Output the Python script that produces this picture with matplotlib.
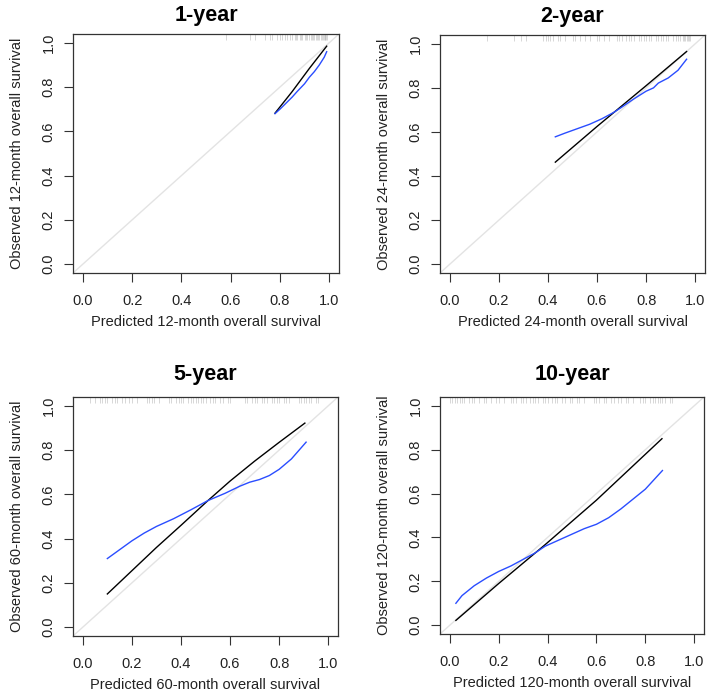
import numpy as np
import matplotlib
matplotlib.use("Agg")
import matplotlib.pyplot as plt

plt.rcParams['font.family'] = ['Liberation Sans', 'DejaVu Sans']

titles = ["1-year", "2-year", "5-year", "10-year"]
months = [12, 24, 60, 120]

# black: apparent (bias-corrected) calibration, blue: smoothed observed
black_x = [[0.78, 0.85, 0.92, 0.99],
           [0.43, 0.60, 0.80, 0.965],
           [0.10, 0.20, 0.30, 0.40, 0.51, 0.60, 0.70, 0.80, 0.905],
           [0.025, 0.20, 0.39, 0.60, 0.868]]
black_y = [[0.682, 0.78, 0.885, 0.985],
           [0.463, 0.625, 0.81, 0.965],
           [0.15, 0.255, 0.36, 0.46, 0.572, 0.66, 0.75, 0.835, 0.922],
           [0.022, 0.19, 0.367, 0.57, 0.85]]

blue_x = [[0.78, 0.80, 0.82, 0.85, 0.87, 0.90, 0.92, 0.94, 0.96, 0.98, 0.99],
          [0.43, 0.47, 0.52, 0.57, 0.62, 0.67, 0.70, 0.75, 0.80, 0.83, 0.85,
           0.89, 0.93, 0.965],
          [0.10, 0.15, 0.20, 0.25, 0.30, 0.37, 0.44, 0.51, 0.58, 0.64, 0.68,
           0.72, 0.76, 0.80, 0.85, 0.91],
          [0.025, 0.05, 0.10, 0.15, 0.20, 0.25, 0.30, 0.35, 0.39, 0.45, 0.50,
           0.55, 0.60, 0.65, 0.70, 0.75, 0.80, 0.87]]
blue_y = [[0.68, 0.70, 0.722, 0.755, 0.78, 0.815, 0.845, 0.87, 0.90, 0.935, 0.96],
          [0.578, 0.595, 0.615, 0.635, 0.66, 0.69, 0.712, 0.75, 0.785, 0.80,
           0.822, 0.845, 0.88, 0.93],
          [0.31, 0.35, 0.39, 0.425, 0.455, 0.49, 0.53, 0.572, 0.605, 0.637,
           0.655, 0.667, 0.685, 0.713, 0.76, 0.836],
          [0.10, 0.135, 0.18, 0.215, 0.245, 0.27, 0.30, 0.33, 0.36, 0.39, 0.415,
           0.44, 0.46, 0.49, 0.53, 0.575, 0.62, 0.705]]

# rug of predicted values along the top
rugs = [
    [0.58, 0.68, 0.70, 0.74, 0.76, 0.77, 0.79, 0.80, 0.81, 0.82, 0.83, 0.84,
     0.85, 0.86, 0.865, 0.87, 0.88, 0.885, 0.89, 0.90, 0.905, 0.91, 0.92,
     0.925, 0.93, 0.935, 0.94, 0.945, 0.95, 0.955, 0.96, 0.965, 0.97, 0.975,
     0.98, 0.983, 0.985, 0.988, 0.99],
    [0.15, 0.26, 0.29, 0.31, 0.38, 0.39, 0.40, 0.41, 0.42, 0.44, 0.45, 0.47,
     0.50, 0.51, 0.53, 0.55, 0.57, 0.60, 0.61, 0.63, 0.65, 0.68, 0.69, 0.70,
     0.72, 0.73, 0.74, 0.75, 0.77, 0.78, 0.79, 0.80, 0.81, 0.82, 0.84, 0.85,
     0.86, 0.87, 0.88, 0.89, 0.91, 0.92, 0.93, 0.94, 0.95, 0.955, 0.96, 0.965,
     0.97, 0.975, 0.98],
    [0.03, 0.05, 0.07, 0.08, 0.09, 0.10, 0.12, 0.13, 0.14, 0.16, 0.17, 0.19,
     0.20, 0.22, 0.26, 0.27, 0.28, 0.29, 0.31, 0.35, 0.36, 0.38, 0.39, 0.40,
     0.41, 0.43, 0.44, 0.45, 0.46, 0.47, 0.48, 0.49, 0.50, 0.52, 0.53, 0.54,
     0.56, 0.57, 0.59, 0.60, 0.66, 0.67, 0.69, 0.70, 0.71, 0.73, 0.74, 0.75,
     0.77, 0.78, 0.79, 0.80, 0.82, 0.83, 0.84, 0.88, 0.89, 0.90, 0.91, 0.92,
     0.93, 0.95, 0.96],
    [0.00, 0.01, 0.02, 0.03, 0.04, 0.05, 0.06, 0.08, 0.09, 0.10, 0.12, 0.14,
     0.15, 0.17, 0.19, 0.20, 0.22, 0.25, 0.26, 0.27, 0.29, 0.30, 0.31, 0.33,
     0.34, 0.35, 0.36, 0.38, 0.39, 0.40, 0.42, 0.43, 0.44, 0.46, 0.47, 0.49,
     0.50, 0.52, 0.53, 0.55, 0.59, 0.60, 0.61, 0.63, 0.64, 0.66, 0.67, 0.69,
     0.70, 0.72, 0.73, 0.75, 0.78, 0.79, 0.80, 0.82, 0.83, 0.84, 0.85, 0.86,
     0.87, 0.88, 0.90, 0.91]]

ticks = [0.0, 0.2, 0.4, 0.6, 0.8, 1.0]

fig = plt.figure(figsize=(7.08, 6.95), dpi=100)
W, H = 708.0, 695.0
# axes boxes in pixels: left, top, right, bottom
boxes = [(73, 34, 339, 273), (440, 35, 705, 273),
         (73, 397, 338, 636), (440, 397, 704, 634)]
title_pads = [9, 9, 12, 12]

for i in range(4):
    l, t, r, b = boxes[i]
    ax = fig.add_axes([l / W, 1 - b / H, (r - l) / W, (b - t) / H])
    ax.set_xlim(-0.04, 1.04)
    ax.set_ylim(-0.04, 1.04)
    ax.plot([-0.04, 1.04], [-0.04, 1.04], color='#e3e3e3', lw=1, zorder=1)
    ax.vlines(rugs[i], 0.975, 1.0, transform=ax.get_xaxis_transform(),
              color='#999999', alpha=0.45, lw=0.6)
    ax.plot(black_x[i], black_y[i], color='black', lw=1, zorder=3)
    ax.plot(blue_x[i], blue_y[i], color='#2a4dff', lw=1, zorder=4)

    ax.set_xticks(ticks)
    ax.set_yticks(ticks)
    ax.set_xticklabels(["%.1f" % v for v in ticks])
    ax.set_yticklabels(["%.1f" % v for v in ticks], rotation=90, va='center')
    ax.tick_params(direction='out', length=6.5, width=0.8, labelsize=10.5,
                   color='#333333', labelcolor='#222222')
    ax.tick_params(axis='x', pad=8.5)
    ax.tick_params(axis='y', pad=6)
    for s in ax.spines.values():
        s.set_color('#333333')
        s.set_linewidth(0.9)

    ax.set_xlabel("Predicted %d-month overall survival" % months[i],
                  fontsize=10.5, color='#222222', labelpad=5)
    ax.set_ylabel("Observed %d-month overall survival" % months[i],
                  fontsize=10.5, color='#222222', labelpad=13)
    ax.set_title(titles[i], fontsize=15.5, fontweight='bold',
                 pad=title_pads[i])

fig.savefig("out.png", dpi=100)
